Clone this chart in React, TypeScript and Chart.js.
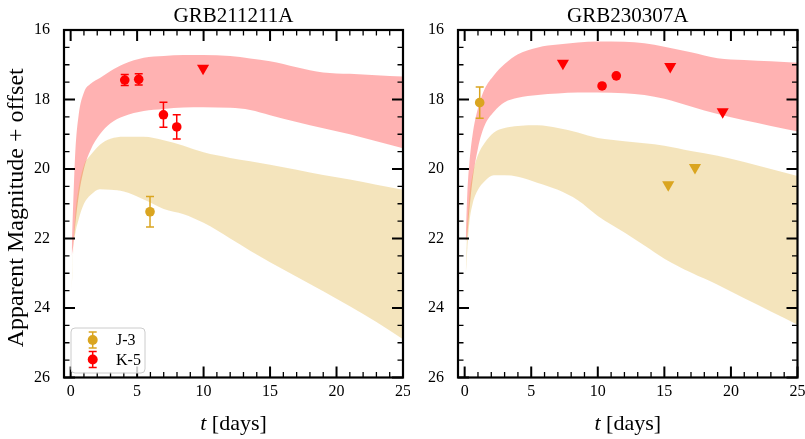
import React, { useEffect, useRef } from "react";
import { Chart, registerables } from "chart.js";

Chart.register(...registerables);

// ---------- shared grid / ticks / labels ----------
const T = [0.08, 0.2, 0.35, 0.6, 1.0, 1.5, 2.2, 3.0, 4.0, 5.5, 7, 8.5, 10, 12, 13.5, 15, 17, 19, 21, 23, 25];
const X_TICKS = [0, 5, 10, 15, 20, 25];
const Y_TICKS = [16, 18, 20, 22, 24, 26];
const X_MIN = -0.5;
const X_MAX = 25;
const Y_MIN = 16;
const Y_MAX = 26;
const TITLES = ["GRB211211A", "GRB230307A"];
const Y_LABEL = "Apparent Magnitude + offset";
const X_LABEL_VAR = "t";
const X_LABEL_UNIT = " [days]";
const LEGEND_LABELS = ["J-3", "K-5"];

// ---------- GRB211211A ----------
const A_K5_UPPER = [22.3, 20.9, 19.5, 18.45, 17.8, 17.55, 17.38, 17.18, 16.98, 16.8, 16.75, 16.72, 16.72, 16.75, 16.82, 16.9, 17.07, 17.22, 17.26, 17.3, 17.34];
const A_K5_LOWER = [22.5, 22.2, 21.6, 20.8, 20.0, 19.45, 19.0, 18.68, 18.48, 18.33, 18.27, 18.23, 18.22, 18.24, 18.3, 18.45, 18.65, 18.83, 19.0, 19.2, 19.4];
const A_J3_UPPER = [23.3, 22.2, 21.3, 20.55, 19.9, 19.6, 19.3, 19.13, 19.07, 19.07, 19.17, 19.33, 19.52, 19.68, 19.78, 19.88, 20.02, 20.17, 20.3, 20.45, 20.6];
const A_J3_LOWER = [23.5, 22.3, 21.85, 21.45, 21.0, 20.75, 20.58, 20.6, 20.65, 20.88, 21.15, 21.3, 21.55, 22.0, 22.35, 22.68, 23.1, 23.52, 23.95, 24.4, 24.9];
const A_K5_T = [4.07, 5.12, 6.98, 7.98];
const A_K5_MAG = [17.44, 17.42, 18.44, 18.79];
const A_K5_ERR = [0.16, 0.16, 0.36, 0.35];
const A_K5_LIM_T = [9.96];
const A_K5_LIM_MAG = [17.1];
const A_J3_T = [5.97];
const A_J3_MAG = [21.23];
const A_J3_ERR = [0.44];
const A_J3_LIM_T: number[] = [];
const A_J3_LIM_MAG: number[] = [];

// ---------- GRB230307A ----------
const B_K5_UPPER = [22.0, 20.7, 19.85, 19.0, 18.25, 17.7, 17.3, 16.98, 16.7, 16.5, 16.42, 16.36, 16.33, 16.34, 16.38, 16.48, 16.64, 16.81, 16.86, 16.9, 16.94];
const B_K5_LOWER = [22.1, 21.9, 21.2, 20.3, 19.4, 18.75, 18.35, 18.08, 17.95, 17.87, 17.83, 17.8, 17.8, 17.82, 17.87, 17.98, 18.2, 18.42, 18.6, 18.76, 18.92];
const B_J3_UPPER = [23.0, 21.7, 20.8, 20.15, 19.6, 19.25, 18.95, 18.82, 18.76, 18.74, 18.82, 18.95, 19.11, 19.2, 19.26, 19.33, 19.48, 19.62, 19.8, 20.0, 20.2];
const B_J3_LOWER = [23.1, 22.3, 21.55, 21.0, 20.6, 20.35, 20.18, 20.18, 20.22, 20.4, 20.6, 20.9, 21.35, 21.83, 22.2, 22.58, 22.98, 23.33, 23.72, 24.1, 24.48];
const B_K5_T = [10.32, 11.39];
const B_K5_MAG = [17.61, 17.32];
const B_K5_ERR = [0, 0];
const B_K5_LIM_T = [7.38, 15.44, 19.38];
const B_K5_LIM_MAG = [16.96, 17.05, 18.35];
const B_J3_T = [1.13];
const B_J3_MAG = [18.09];
const B_J3_ERR = [0.45];
const B_J3_LIM_T = [15.29, 17.3];
const B_J3_LIM_MAG = [20.45, 19.96];

// ---------- style ----------
const FONT = '"Liberation Serif", "DejaVu Serif", serif';
const RED = "#ff0000";
const GOLD = "#daa520";
const RED_BAND = "rgba(255,0,0,0.3)";
const GOLD_BAND = "rgba(218,165,32,0.3)";
const H = 439;
const AREA_TOP = 30;
const AREA_BOTTOM = 377.5;
const CAP = 4;

type PanelSpec = {
  title: string;
  k5Upper: number[];
  k5Lower: number[];
  j3Upper: number[];
  j3Lower: number[];
  k5T: number[];
  k5M: number[];
  k5E: number[];
  k5LT: number[];
  k5LM: number[];
  j3T: number[];
  j3M: number[];
  j3E: number[];
  j3LT: number[];
  j3LM: number[];
  left: number;
  width: number;
  areaLeft: number;
  padRight: number;
  showYLabel: boolean;
  showLegend: boolean;
};

const PANEL_A: PanelSpec = {
  title: TITLES[0],
  k5Upper: A_K5_UPPER, k5Lower: A_K5_LOWER, j3Upper: A_J3_UPPER, j3Lower: A_J3_LOWER,
  k5T: A_K5_T, k5M: A_K5_MAG, k5E: A_K5_ERR, k5LT: A_K5_LIM_T, k5LM: A_K5_LIM_MAG,
  j3T: A_J3_T, j3M: A_J3_MAG, j3E: A_J3_ERR, j3LT: A_J3_LIM_T, j3LM: A_J3_LIM_MAG,
  left: 0, width: 410, areaLeft: 64, padRight: 7, showYLabel: true, showLegend: true,
};

const PANEL_B: PanelSpec = {
  title: TITLES[1],
  k5Upper: B_K5_UPPER, k5Lower: B_K5_LOWER, j3Upper: B_J3_UPPER, j3Lower: B_J3_LOWER,
  k5T: B_K5_T, k5M: B_K5_MAG, k5E: B_K5_ERR, k5LT: B_K5_LIM_T, k5LM: B_K5_LIM_MAG,
  j3T: B_J3_T, j3M: B_J3_MAG, j3E: B_J3_ERR, j3LT: B_J3_LIM_T, j3LM: B_J3_LIM_MAG,
  left: 410, width: 395, areaLeft: 48, padRight: 7.5, showYLabel: false, showLegend: false,
};

const xy = (xs: number[], ys: number[]) => xs.map((x, i) => ({ x, y: ys[i] }));

function band(ys: number[], fill: any, color: string, order: number) {
  return {
    type: "line",
    data: xy(T, ys),
    fill,
    backgroundColor: color,
    borderColor: "rgba(0,0,0,0)",
    borderWidth: 0,
    pointRadius: 0,
    pointHoverRadius: 0,
    cubicInterpolationMode: "monotone",
    order,
  };
}

function drawErrMarker(ctx: CanvasRenderingContext2D, x: number, y: number, color: string) {
  ctx.save();
  ctx.strokeStyle = color;
  ctx.fillStyle = color;
  ctx.lineWidth = 1.5;
  ctx.beginPath();
  ctx.moveTo(x, y - 8);
  ctx.lineTo(x, y + 8);
  ctx.moveTo(x - CAP, y - 8);
  ctx.lineTo(x + CAP, y - 8);
  ctx.moveTo(x - CAP, y + 8);
  ctx.lineTo(x + CAP, y + 8);
  ctx.stroke();
  ctx.beginPath();
  ctx.arc(x, y, 5, 0, Math.PI * 2);
  ctx.fill();
  ctx.restore();
}

function decor(s: PanelSpec) {
  return {
    id: "decor",
    beforeDatasetDraw(chart: any, args: any) {
      const ds = chart.data.datasets[args.index];
      if (!ds.errors) return;
      const ctx = chart.ctx;
      const xs = chart.scales.x;
      const ys = chart.scales.y;
      ctx.save();
      ctx.strokeStyle = ds.borderColor;
      ctx.lineWidth = 1.5;
      ds.data.forEach((p: any, i: number) => {
        const e = ds.errors[i];
        if (!e) return;
        const px = xs.getPixelForValue(p.x);
        const a = ys.getPixelForValue(p.y - e);
        const b = ys.getPixelForValue(p.y + e);
        ctx.beginPath();
        ctx.moveTo(px, a);
        ctx.lineTo(px, b);
        ctx.moveTo(px - CAP, a);
        ctx.lineTo(px + CAP, a);
        ctx.moveTo(px - CAP, b);
        ctx.lineTo(px + CAP, b);
        ctx.stroke();
      });
      ctx.restore();
    },
    afterDraw(chart: any) {
      const ctx: CanvasRenderingContext2D = chart.ctx;
      const xs = chart.scales.x;
      const ys = chart.scales.y;
      const { left, right, top, bottom } = chart.chartArea;
      ctx.save();
      ctx.strokeStyle = "#000";
      const tickX = (v: number, len: number, lw: number) => {
        const p = xs.getPixelForValue(v);
        ctx.lineWidth = lw;
        ctx.beginPath();
        ctx.moveTo(p, bottom);
        ctx.lineTo(p, bottom - len);
        ctx.moveTo(p, top);
        ctx.lineTo(p, top + len);
        ctx.stroke();
      };
      const tickY = (v: number, len: number, lw: number) => {
        const p = ys.getPixelForValue(v);
        ctx.lineWidth = lw;
        ctx.beginPath();
        ctx.moveTo(left, p);
        ctx.lineTo(left + len, p);
        ctx.moveTo(right, p);
        ctx.lineTo(right - len, p);
        ctx.stroke();
      };
      for (let v = 0; v <= X_MAX; v += 1) {
        if (X_TICKS.indexOf(v) < 0) tickX(v, 5.5, 1.3);
      }
      X_TICKS.forEach((v) => tickX(v, 11, 2));
      for (let v = Y_MIN; v <= Y_MAX; v += 0.5) {
        if (Y_TICKS.indexOf(v) < 0) tickY(v, 5.5, 1.3);
      }
      Y_TICKS.forEach((v) => tickY(v, 11, 2));
      ctx.lineWidth = 2.2;
      ctx.strokeRect(left, top, right - left, bottom - top);

      // title
      ctx.fillStyle = "#000";
      ctx.font = `21px ${FONT}`;
      ctx.textAlign = "center";
      ctx.textBaseline = "alphabetic";
      ctx.fillText(s.title, (left + right) / 2, 22);

      // x label with italic variable
      const cx = (left + right) / 2;
      ctx.font = `italic 22px ${FONT}`;
      const w1 = ctx.measureText(X_LABEL_VAR).width;
      ctx.font = `22px ${FONT}`;
      const w2 = ctx.measureText(X_LABEL_UNIT).width;
      const start = cx - (w1 + w2) / 2;
      ctx.textAlign = "left";
      ctx.font = `italic 22px ${FONT}`;
      ctx.fillText(X_LABEL_VAR, start, 430);
      ctx.font = `22px ${FONT}`;
      ctx.fillText(X_LABEL_UNIT, start + w1, 430);

      // y label
      if (s.showYLabel) {
        ctx.save();
        ctx.translate(23, (top + bottom) / 2 + 4);
        ctx.rotate(-Math.PI / 2);
        ctx.textAlign = "center";
        ctx.font = `24px ${FONT}`;
        ctx.fillText(Y_LABEL, 0, 0);
        ctx.restore();
      }

      // legend
      if (s.showLegend) {
        const bx = 71, by = 328, bw = 74, bh = 45, r = 4;
        ctx.beginPath();
        ctx.moveTo(bx + r, by);
        ctx.lineTo(bx + bw - r, by);
        ctx.quadraticCurveTo(bx + bw, by, bx + bw, by + r);
        ctx.lineTo(bx + bw, by + bh - r);
        ctx.quadraticCurveTo(bx + bw, by + bh, bx + bw - r, by + bh);
        ctx.lineTo(bx + r, by + bh);
        ctx.quadraticCurveTo(bx, by + bh, bx, by + bh - r);
        ctx.lineTo(bx, by + r);
        ctx.quadraticCurveTo(bx, by, bx + r, by);
        ctx.closePath();
        ctx.fillStyle = "rgba(255,255,255,0.8)";
        ctx.fill();
        ctx.strokeStyle = "#cccccc";
        ctx.lineWidth = 1;
        ctx.stroke();
        const rows = [
          { label: LEGEND_LABELS[0], color: GOLD, y: 340 },
          { label: LEGEND_LABELS[1], color: RED, y: 359.5 },
        ];
        rows.forEach((row) => {
          drawErrMarker(ctx, 92.7, row.y, row.color);
          ctx.fillStyle = "#000";
          ctx.font = `16px ${FONT}`;
          ctx.textAlign = "left";
          ctx.textBaseline = "middle";
          ctx.fillText(row.label, 116, row.y + 1);
        });
      }
      ctx.restore();
    },
  };
}

function buildConfig(s: PanelSpec): any {
  const det = (label: string, t: number[], m: number[], e: number[], color: string) => ({
    type: "scatter",
    label,
    data: xy(t, m),
    errors: e,
    backgroundColor: color,
    borderColor: color,
    pointStyle: "circle",
    pointRadius: 4.8,
    pointBorderWidth: 0,
    pointHoverRadius: 4.8,
    order: 5,
  });
  const lim = (label: string, t: number[], m: number[], color: string) => ({
    type: "scatter",
    label,
    data: xy(t, m),
    backgroundColor: color,
    borderColor: color,
    pointStyle: "triangle",
    pointRotation: 180,
    pointRadius: 7,
    pointBorderWidth: 0,
    pointHoverRadius: 7,
    order: 5,
  });
  return {
    type: "scatter",
    data: {
      datasets: [
        band(s.k5Upper, "+1", RED_BAND, 30),
        band(s.k5Lower, false, RED_BAND, 30),
        band(s.j3Upper, "+1", GOLD_BAND, 20),
        band(s.j3Lower, false, GOLD_BAND, 20),
        det(LEGEND_LABELS[0], s.j3T, s.j3M, s.j3E, GOLD),
        det(LEGEND_LABELS[1], s.k5T, s.k5M, s.k5E, RED),
        lim(LEGEND_LABELS[0], s.j3LT, s.j3LM, GOLD),
        lim(LEGEND_LABELS[1], s.k5LT, s.k5LM, RED),
      ],
    },
    options: {
      responsive: false,
      animation: false,
      devicePixelRatio: 1,
      events: [],
      layout: { padding: { top: AREA_TOP, right: s.padRight, left: 0, bottom: 0 } },
      plugins: {
        legend: { display: false },
        tooltip: { enabled: false },
        title: { display: false },
      },
      scales: {
        x: {
          type: "linear",
          min: X_MIN,
          max: X_MAX,
          grid: { display: false, drawTicks: false },
          border: { display: false },
          ticks: {
            font: { family: FONT, size: 16 },
            color: "#000",
            padding: 5,
            autoSkip: false,
            maxRotation: 0,
            callback: (v: any) => String(v),
          },
          afterBuildTicks: (sc: any) => {
            sc.ticks = X_TICKS.map((value) => ({ value }));
          },
          afterFit: (sc: any) => {
            sc.height = H - AREA_BOTTOM;
            sc.paddingLeft = 0;
            sc.paddingRight = 0;
          },
        },
        y: {
          type: "linear",
          reverse: true,
          min: Y_MIN,
          max: Y_MAX,
          grid: { display: false, drawTicks: false },
          border: { display: false },
          ticks: {
            font: { family: FONT, size: 16 },
            color: "#000",
            padding: 14,
            autoSkip: false,
            callback: (v: any) => String(v),
          },
          afterBuildTicks: (sc: any) => {
            sc.ticks = Y_TICKS.map((value) => ({ value }));
          },
          afterFit: (sc: any) => {
            sc.width = s.areaLeft;
            sc.paddingTop = 0;
            sc.paddingBottom = 0;
          },
        },
      },
    },
    plugins: [decor(s)],
  };
}

function Panel({ spec }: { spec: PanelSpec }) {
  const ref = useRef<HTMLCanvasElement>(null);
  useEffect(() => {
    if (!ref.current) return;
    const chart = new Chart(ref.current, buildConfig(spec));
    return () => chart.destroy();
  }, [spec]);
  return (
    <canvas
      ref={ref}
      width={spec.width}
      height={H}
      style={{ position: "absolute", left: spec.left, top: 0, width: spec.width, height: H }}
    />
  );
}

export default function App() {
  return (
    <div style={{ position: "fixed", left: 0, top: 0, width: 805, height: H, background: "#fff" }}>
      <Panel spec={PANEL_A} />
      <Panel spec={PANEL_B} />
    </div>
  );
}
